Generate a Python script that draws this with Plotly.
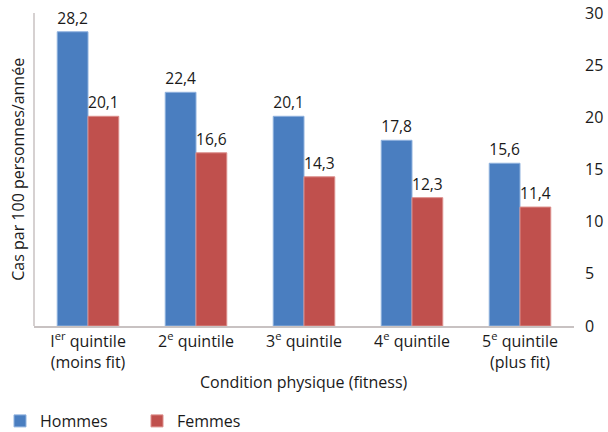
import plotly.graph_objects as go

categories = [
    "I<sup>er</sup> quintile<br>(moins fit)",
    "2<sup>e</sup> quintile",
    "3<sup>e</sup> quintile",
    "4<sup>e</sup> quintile",
    "5<sup>e</sup> quintile<br>(plus fit)",
]
hommes = [28.2, 22.4, 20.1, 17.8, 15.6]
femmes = [20.1, 16.6, 14.3, 12.3, 11.4]
y_ticks = [0, 5, 10, 15, 20, 25, 30]

FONT = "'Open Sans', Lato, sans-serif"
TXT = "#1a1a1a"
SZ = 16

fig = go.Figure()
fig.add_trace(go.Bar(
    name="Hommes", x=categories, y=hommes,
    marker=dict(color="#4a7ec0", line=dict(color="#8fb2de", width=1)),
    texttemplate="%{y:.1f}", textposition="outside",
    textfont=dict(size=SZ, color=TXT), cliponaxis=False,
))
fig.add_trace(go.Bar(
    name="Femmes", x=categories, y=femmes,
    marker=dict(color="#c0504d", line=dict(color="#dc8e8b", width=1)),
    texttemplate="%{y:.1f}", textposition="outside",
    textfont=dict(size=SZ, color=TXT), cliponaxis=False,
))

fig.update_layout(
    width=608, height=432,
    margin=dict(l=34, r=34, t=13, b=106, autoexpand=False),
    paper_bgcolor="white", plot_bgcolor="white",
    separators=", ",
    barmode="group", bargap=0.43, bargroupgap=0,
    font=dict(family=FONT, size=SZ, color=TXT),
    showlegend=True,
    legend=dict(orientation="h", xref="container", x=-0.045, xanchor="left",
                yref="container", y=(432 - 421) / 432, yanchor="middle",
                font=dict(size=SZ, color=TXT), traceorder="normal",
                itemwidth=30, entrywidthmode="pixels", entrywidth=92,
                bgcolor="rgba(0,0,0,0)", borderwidth=0),
    xaxis=dict(
        automargin=False,
        showline=True, linecolor="#c8c2c2", linewidth=1.5,
        ticks="", tickfont=dict(size=SZ, color=TXT),
    ),
    yaxis=dict(
        automargin=False,
        side="right", range=[0, 30], tickvals=y_ticks,
        showgrid=False, zeroline=False, showline=False,
        ticks="", ticklabelstandoff=10,
        tickfont=dict(size=SZ, color=TXT),
    ),
    shapes=[dict(type="line", xref="paper", yref="paper", x0=0, x1=0, y0=0, y1=1,
                 line=dict(color="#c8c2c2", width=1.5))],
    annotations=[
        dict(text="Cas par 100 personnes/année", textangle=-90,
             xref="paper", yref="paper", x=-0.031, y=0.5,
             xanchor="center", yanchor="middle", showarrow=False,
             font=dict(size=SZ, color=TXT)),
        dict(text="Condition physique (fitness)",
             xref="paper", yref="paper", x=0.5, y=-(382 - 326) / 313,
             xanchor="center", yanchor="middle", showarrow=False,
             font=dict(size=SZ, color=TXT)),
    ],
)

fig.write_html("out.html")
